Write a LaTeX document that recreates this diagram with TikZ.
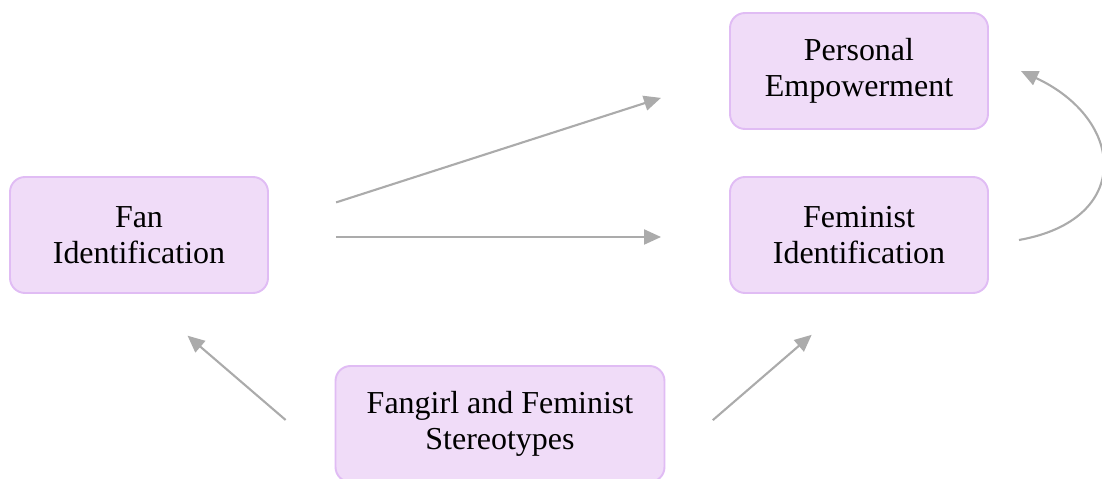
\documentclass[tikz,border=0pt]{standalone}
\usepackage{fontspec}
\setmainfont{Liberation Serif}
\usetikzlibrary{arrows.meta}
\definecolor{boxfill}{HTML}{F0DCF8}
\definecolor{boxline}{HTML}{E0BCF4}
\definecolor{arrowgray}{HTML}{ABABAB}
\tikzset{
  factor/.style={draw=boxline, fill=boxfill, line width=1.1pt, rounded corners=0.3cm,
    minimum width=5.16cm, minimum height=2.32cm, align=center,
    font=\fontsize{18.2}{20.5}\selectfont},
  link/.style={draw=arrowgray, line width=1.2pt, -{Triangle[length=0.34cm,width=0.3cm]}}
}
\begin{document}
\begin{tikzpicture}
      \useasboundingbox (0,0) rectangle (22.04,9.58);
      \draw
        (2.78,4.88) node[factor] (fan){Fan\\Identification}
        (17.18,8.16) node[factor] (empower){Personal\\Empowerment}
        (17.18,4.88) node[factor] (feminist){Feminist\\Identification}
        (10.0,1.10) node[factor, minimum width=6.58cm] (stereo){Fangirl and Feminist\\Stereotypes};
      \begin{scope}[link]
        \draw[shorten <=1.41cm, shorten >=1.43cm] ([yshift=0.22cm]fan.east) to ([yshift=-0.1cm]empower.west);
        \draw[shorten <=1.34cm, shorten >=1.36cm] ([yshift=-0.04cm]fan.east) to ([yshift=-0.04cm]feminist.west);
        \draw[shorten <=1.29cm, shorten >=1.28cm] ([yshift=-0.76cm]stereo.west) to (fan.south);
        \draw[shorten <=1.25cm, shorten >=1.25cm] ([yshift=-0.74cm]stereo.east) to (feminist.south);
        \draw ([xshift=0.6cm,yshift=-0.1cm]feminist.east) to[out=10, in=-25, looseness=1.75] ([xshift=0.64cm]empower.east);
      \end{scope}
    \end{tikzpicture}
\end{document}
